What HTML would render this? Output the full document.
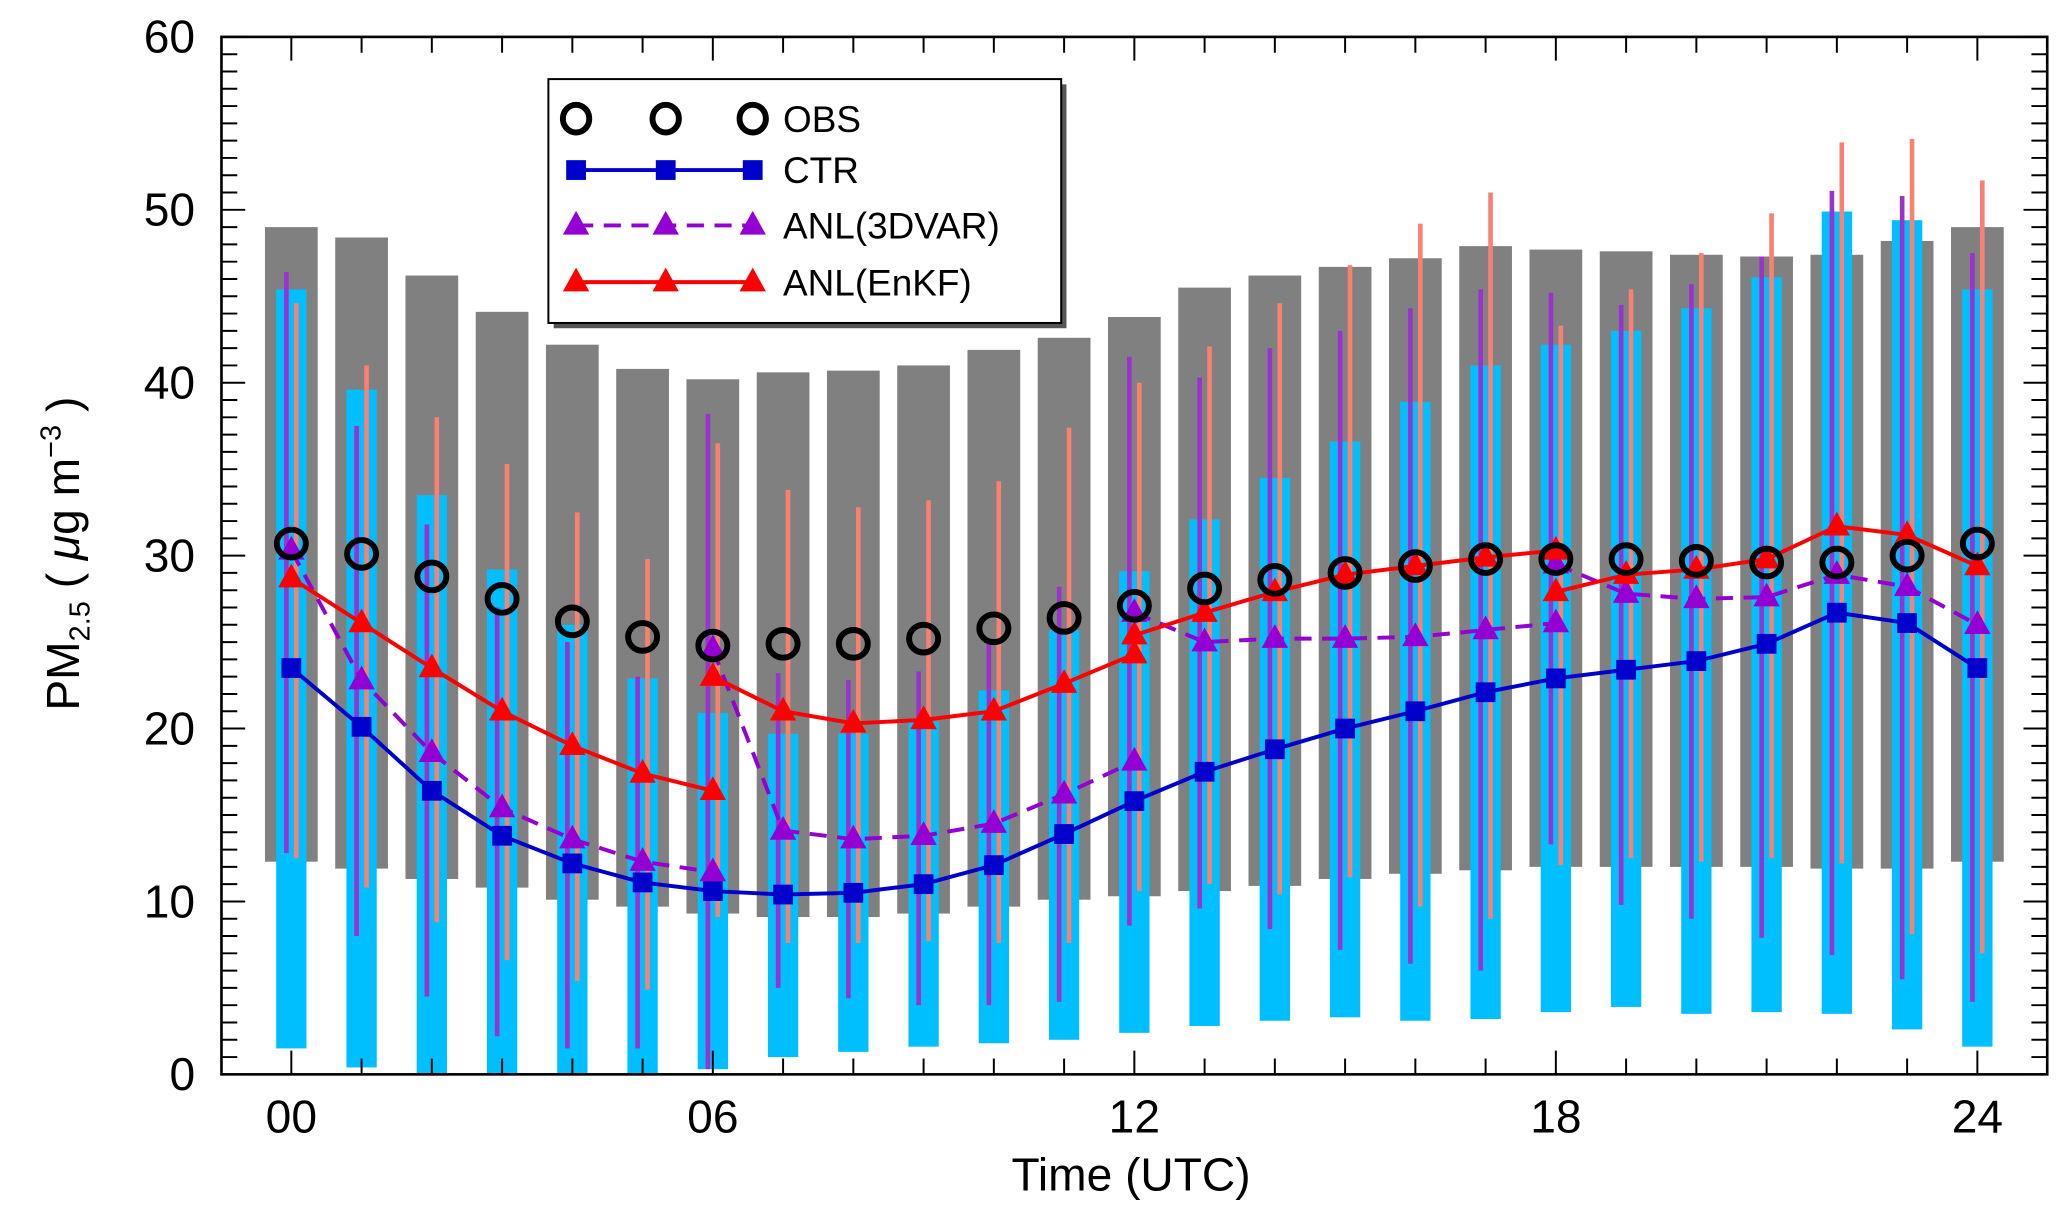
<!DOCTYPE html>
<html><head><meta charset="utf-8"><style>
html,body{margin:0;padding:0;background:#fff}
svg{display:block}
text{font-family:"Liberation Sans",sans-serif;fill:#000}
</style></head><body>
<svg id="chart" width="2067" height="1222" viewBox="0 0 1568 927" preserveAspectRatio="none" xmlns="http://www.w3.org/2000/svg">
<g id="bars"></g>
<g id="lines"></g>
<g id="axes"></g>
<g id="legend">
<rect x="420" y="64" width="389" height="185" fill="#555"/>
<rect x="416" y="60" width="389" height="185" fill="#fff" stroke="#000" stroke-width="1.5"/>
</g>
<text x="858" y="903" font-size="35" text-anchor="middle">Time (UTC)</text>
<text transform="translate(60,420) rotate(-90)" font-size="35" text-anchor="middle">PM<tspan font-size="22" dy="8">2.5</tspan><tspan dy="-8"> ( </tspan><tspan font-style="italic">μ</tspan>g m<tspan font-size="22" dy="-14">−3</tspan><tspan dy="14"> )</tspan></text>
</svg>
<script>
const hours=[0,1,2,3,4,5,6,7,8,9,10,11,12,13,14,15,16,17,18,19,20,21,22,23,24];
const grayTop=[49,48.4,46.2,44.1,42.2,40.8,40.2,40.6,40.7,41,41.9,42.6,43.8,45.5,46.2,46.7,47.2,47.9,47.7,47.6,47.4,47.3,47.4,48.2,49];
const grayBot=[12.3,11.9,11.3,10.8,10.1,9.7,9.3,9.1,9.1,9.3,9.7,10.1,10.3,10.6,10.9,11.3,11.6,11.8,12,12,12,12,11.9,11.9,12.3];
const cyanTop=[45.4,39.6,33.5,29.2,26,22.9,20.9,19.7,19.7,20.4,22.2,25.7,29.1,32.1,34.5,36.6,38.9,41,42.2,43,44.3,46.1,49.9,49.4,45.4];
const cyanBot=[1.5,0.4,0,0,0,0,0.3,1,1.3,1.6,1.8,2,2.4,2.8,3.1,3.3,3.1,3.2,3.6,3.9,3.5,3.6,3.5,2.6,1.6];
const purpTop=[46.4,37.5,31.8,27,25,23,38.2,23.2,22.8,23.3,25,28.2,41.5,40.3,42,43,44.3,45.4,45.2,44.5,45.7,47.3,51.1,50.8,47.5];
const purpBot=[12.8,8,4.5,2.2,1.5,1.5,0.3,5,4.4,4,4,4.2,8.6,9.6,8.4,7.2,6.4,6,13.3,9.8,9,7.9,6.9,5.5,4.2];
const salTop=[44.6,41,38,35.3,32.5,29.8,36.5,33.8,32.8,33.2,34.3,37.4,40,42.1,44.6,46.8,49.2,51,43.3,45.4,47.5,49.8,53.9,54.1,51.7];
const salBot=[12.5,10.8,8.8,6.6,5.4,4.9,9.1,7.6,7.6,7.7,7.6,7.6,10.6,11,10.4,11.4,9.7,9,12.1,12.5,12.3,12.5,12.2,8.1,7];
const obs=[30.7,30.1,28.8,27.5,26.2,25.3,24.8,24.9,24.9,25.2,25.8,26.4,27.1,28.1,28.6,29,29.4,29.8,29.8,29.8,29.7,29.6,29.6,30,30.7];
const ctr=[23.5,20.1,16.4,13.8,12.2,11.1,10.6,10.4,10.5,11,12.1,13.9,15.8,17.5,18.8,20,21,22.1,22.9,23.4,23.9,24.9,26.7,26.1,23.5];
const var1=[30.3,22.8,18.6,15.4,13.6,12.3,11.7];
const var2=[24.6,14.1,13.6,13.8,14.5,16.2,18.1];
const var3=[26.7,25,25.2,25.2,25.3,25.7,26.1];
const var4=[29.5,27.8,27.5,27.6,28.9,28.2,26];
const enkf1=[28.7,26.1,23.5,21,19,17.4,16.4];
const enkf2=[23,21,20.3,20.5,21,22.6,24.3];
const enkf3=[25.4,26.7,27.9,28.9,29.4,29.9,30.3];
const enkf4=[27.9,28.9,29.2,29.8,31.7,31.2,29.4];
const yTicks=[0,10,20,30,40,50,60];
const xLabels=["00","06","12","18","24"];

const NS="http://www.w3.org/2000/svg";
const L=168,R=1553,T=28,B=815;
const X=h=>221+h*(1500-221)/24;
const Y=v=>B-v*(B-T)/60;
function mk(tag,attrs,parent){const e=document.createElementNS(NS,tag);for(const k in attrs)e.setAttribute(k,attrs[k]);parent.appendChild(e);return e;}
const bars=document.getElementById('bars'),lines=document.getElementById('lines'),axes=document.getElementById('axes'),legend=document.getElementById('legend');

hours.forEach((h,i)=>{
  const x=X(h);
  let r=mk('rect',{x:x-20,y:Y(grayTop[i]),width:40,height:Y(grayBot[i])-Y(grayTop[i]),fill:'#808080'},bars);
  
  
  r=mk('rect',{x:x-11.5,y:Y(cyanTop[i]),width:23,height:Y(cyanBot[i])-Y(cyanTop[i]),fill:'#00bfff'},bars);
  
  
  r=mk('rect',{x:x-5.5,y:Y(purpTop[i]),width:3.5,height:Y(purpBot[i])-Y(purpTop[i]),fill:'#9a32cd'},bars);
  
  
  r=mk('rect',{x:x+2,y:Y(salTop[i]),width:3.5,height:Y(salBot[i])-Y(salTop[i]),fill:'#fa8072'},bars);
  
  
});

function polyline(vals,start,color,dash,name){
  const pts=vals.map((v,i)=>X(start+i)+','+Y(v)).join(' ');
  const p=mk('polyline',{points:pts,fill:'none',stroke:color,'stroke-width':3},lines);
  if(dash)p.setAttribute('stroke-dasharray',dash);
  
  
}
function tri(x,y,color,parent){return mk('polygon',{points:`${x},${y-11} ${x-10},${y+7} ${x+10},${y+7}`,fill:color},parent);}
function sq(x,y,color,parent){return mk('rect',{x:x-7.5,y:y-7.5,width:15,height:15,fill:color},parent);}

polyline(ctr,0,'#0000cd',null,'ctr-line');
[[var1,0],[var2,6],[var3,12],[var4,18]].forEach(([a,s],k)=>polyline(a,s,'#9400d3','13,8','anl-3dvar-line-'+k));
[[enkf1,0],[enkf2,6],[enkf3,12],[enkf4,18]].forEach(([a,s],k)=>polyline(a,s,'#ff0000',null,'anl-enkf-line-'+k));
ctr.forEach((v,i)=>{const m=sq(X(i),Y(v),'#0000cd',lines);
  
  });
[[var1,0],[var2,6],[var3,12],[var4,18]].forEach(([a,s])=>a.forEach((v,i)=>{const m=tri(X(s+i),Y(v),'#9400d3',lines);
  
  }));
[[enkf1,0],[enkf2,6],[enkf3,12],[enkf4,18]].forEach(([a,s])=>a.forEach((v,i)=>{const m=tri(X(s+i),Y(v),'#ff0000',lines);
  
  }));
obs.forEach((v,i)=>{const c=mk('ellipse',{cx:X(i),cy:Y(v),rx:11,ry:10.5,fill:'none',stroke:'#000','stroke-width':4.5},lines);
  
  });

const frame=mk('rect',{x:L,y:T,width:R-L,height:B-T,fill:'none',stroke:'#000','stroke-width':2},axes);


for(let v=0;v<=60;v++){
  const len=v%10===0?18:12;
  mk('line',{x1:L,x2:L+len,y1:Y(v),y2:Y(v),stroke:'#000','stroke-width':1.5},axes);
  mk('line',{x1:R,x2:R-len,y1:Y(v),y2:Y(v),stroke:'#000','stroke-width':1.5},axes);
}
yTicks.forEach(v=>{const t=mk('text',{x:148,y:Y(v)+12,'font-size':35,'text-anchor':'end'},axes);t.textContent=v;
  
  });
hours.forEach(h=>{
  const len=h%6===0?18:12;
  mk('line',{x1:X(h),x2:X(h),y1:B,y2:B-len,stroke:'#000','stroke-width':1.5},axes);
  mk('line',{x1:X(h),x2:X(h),y1:T,y2:T+len,stroke:'#000','stroke-width':1.5},axes);
});
xLabels.forEach((s,i)=>{const t=mk('text',{x:X(i*6),y:859,'font-size':35,'text-anchor':'middle'},axes);t.textContent=s;
  
  });

const rows=[90,129,171,214],mx=[437,505,571];
const names=['OBS','CTR','ANL(3DVAR)','ANL(EnKF)'];
rows.forEach((y,k)=>{
  const g=mk('g',{},legend);
  
  
  if(k===1)mk('line',{x1:437,x2:571,y1:y,y2:y,stroke:'#0000cd','stroke-width':3},g);
  if(k===2)mk('line',{x1:437,x2:571,y1:y,y2:y,stroke:'#9400d3','stroke-width':3,'stroke-dasharray':'13,8'},g);
  if(k===3)mk('line',{x1:437,x2:571,y1:y,y2:y,stroke:'#ff0000','stroke-width':3},g);
  mx.forEach(x=>{
    if(k===0)mk('ellipse',{cx:x,cy:y,rx:10,ry:10.5,fill:'none',stroke:'#000','stroke-width':4.5},g);
    if(k===1)sq(x,y,'#0000cd',g);
    if(k===2)tri(x,y,'#9400d3',g);
    if(k===3)tri(x,y,'#ff0000',g);
  });
  const t=mk('text',{x:594,y:y+10,'font-size':28},g);t.textContent=names[k];
});
</script>
</body></html>
